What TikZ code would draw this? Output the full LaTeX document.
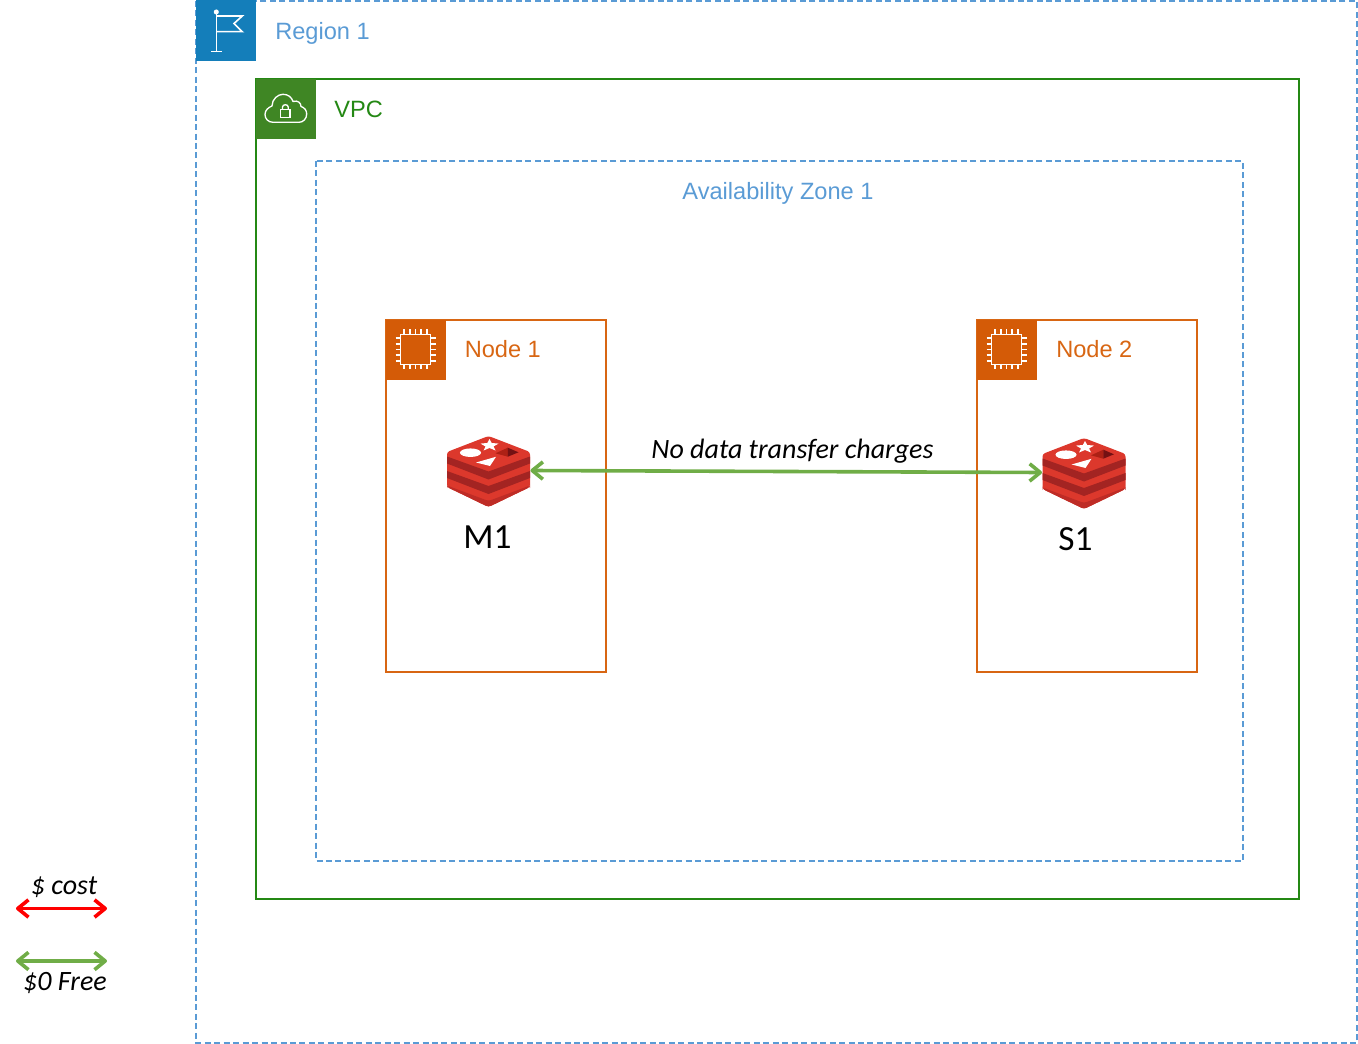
\documentclass[tikz,border=0pt]{standalone}
\usepackage{fontspec}
\setmainfont{Liberation Sans}
\newfontfamily\calibrifont{Carlito}
\usetikzlibrary{arrows.meta}
\definecolor{regionblue}{HTML}{5A9BD5}
\definecolor{flagblue}{HTML}{147EBA}
\definecolor{vpcline}{HTML}{248814}
\definecolor{vpcfill}{HTML}{3F8624}
\definecolor{nodeorange}{HTML}{D86613}
\definecolor{chipfill}{HTML}{D45B07}
\definecolor{freegreen}{HTML}{70AD47}
\definecolor{rtop}{HTML}{DC382C}
\definecolor{rside}{HTML}{A32422}
\definecolor{rlow}{HTML}{BE2C26}
\definecolor{rdia}{HTML}{AD2115}
\definecolor{rdiadark}{HTML}{741113}
\tikzset{
  regionbox/.style={draw=regionblue,line width=1.1pt,dashed,dash pattern=on 4.5pt off 2.6pt},
  vpcbox/.style={draw=vpcline,line width=1.5pt},
  nodebox/.style={draw=nodeorange,line width=1.5pt},
  iconline/.style={draw=white,line width=1.2pt},
  grouplabel/.style={anchor=west,inner sep=0pt,font=\fontsize{17.7pt}{20pt}\selectfont},
  calibrilabel/.style={inner sep=0pt,font=\calibrifont\fontsize{26.5pt}{30pt}\selectfont},
  notelabel/.style={inner sep=0pt,font=\calibrifont\itshape\fontsize{21pt}{25pt}\selectfont},
  flow/.style={line width=2.7pt,line cap=round,{Straight Barb[length=8pt,width=13pt,line join=round]}-{Straight Barb[length=8pt,width=13pt,line join=round]}},
  anchorbox/.style={inner sep=0pt,minimum width=62.5pt,minimum height=54pt},
  chip/.pic={
    \fill[chipfill] (0,0) rectangle (60,60);
    \draw[iconline] (14.5,14.5) rectangle (44.5,44.5);
    \foreach \d in {-11.4,-5.7,0,5.7,11.4}{
      \draw[white,line width=1.1pt] (29.5+\d,9.5) -- (29.5+\d,14.5);
      \draw[white,line width=1.1pt] (29.5+\d,44.5) -- (29.5+\d,49.5);
      \draw[white,line width=1.1pt] (9.5,29.5+\d) -- (14.5,29.5+\d);
      \draw[white,line width=1.1pt] (44.5,29.5+\d) -- (49.5,29.5+\d);
    }
  },
  redis/.pic={
    \fill[rtop,rounded corners=2pt] (-41.5,16) -- (0,0) -- (41.5,16) -- (41.5,51) -- (0,71) -- (-41.5,51) -- cycle;
    \fill[rside] (-41.5,20.5) -- (0,35.5) -- (41.5,20.5) -- (41.5,27.5) -- (0,43.5) -- (-41.5,27.5) -- cycle;
    \fill[rside] (-41.5,35) -- (0,50) -- (41.5,35) -- (41.5,42) -- (0,58) -- (-41.5,42) -- cycle;
    \fill[rlow,rounded corners=2pt] (-41.5,49.5) -- (0,65) -- (41.5,49.5) -- (41.5,51) -- (0,71) -- (-41.5,51) -- cycle;
    \fill[white] (-18,16.7) ellipse [x radius=7.9pt,y radius=3.2pt];
    \fill[white] (1,3) -- (3.2,7) -- (10,7.6) -- (5,10.5) -- (7,14.5) -- (1,12) -- (-5,14.5) -- (-3,10.5) -- (-8,7.6) -- (-1.2,7) -- cycle;
    \fill[white] (-12.5,26.5) -- (7.5,20.8) -- (1.5,30) -- cycle;
    \fill[rdia] (7,17.3) -- (19.3,11.7) -- (19.3,20.7) -- cycle;
    \fill[rdiadark] (19.3,11.7) -- (30,16.3) -- (19.3,20.7) -- cycle;
  }
}
\begin{document}
\begin{tikzpicture}[x=0.75pt,y=-0.75pt]
\useasboundingbox (0,0) rectangle (1358,1044);
% containers
\draw[regionbox] (196,1) rectangle (1357,1043);
\draw[vpcbox] (256,79) rectangle (1299,899);
\draw[regionbox,line width=1pt] (316,161) rectangle (1243,861);
\draw[nodebox] (386,320) rectangle (606,672);
\draw[nodebox] (977,320) rectangle (1197,672);
% region badge
\fill[flagblue] (196,0) rectangle (256,61);
\fill[white] (216.3,12) circle [radius=1.9pt];
\draw[iconline] (216.3,12) -- (216.3,51.5) (211,51.5) -- (222,51.5);
\draw[iconline,line join=miter] (216.3,16) -- (242.3,16) -- (234,23.5) -- (242.3,31.7) -- (216.3,31.7);
% vpc badge
\fill[vpcfill] (256,79) rectangle (316,139);
\draw[iconline,line width=1pt] (273,122.3) .. controls (268,122.3) and (265,118.5) .. (265,114.5) .. controls (265,110.5) and (268,107.5) .. (272,106) .. controls (272,99) and (278,94.3) .. (283,94.3) .. controls (288,94.3) and (291.5,97) .. (293,101.5) .. controls (298,100) and (301,103) .. (301,106.5) .. controls (304.5,107.5) and (306.7,110.5) .. (306.7,114) .. controls (306.7,119) and (303,122.3) .. (299,122.3) -- cycle;
\draw[iconline,line width=1pt] (280.7,109.3) rectangle (290,117.3);
\draw[iconline,line width=1pt] (282.5,109.3) -- (282.5,107) .. controls (282.5,104) and (288.2,104) .. (288.2,107) -- (288.2,109.3);
% chips
\pic at (386,320) {chip};
\pic at (977,320) {chip};
% redis icons
\pic at (488.5,436) {redis};
\pic at (1084,438) {redis};
\node[anchorbox] (m1icon) at (488.5,470.5) {};
\node[anchorbox] (s1icon) at (1084,472.5) {};
% labels
\node[grouplabel,text=regionblue] (regionlabel) at (275,33) {Region 1};
\node[grouplabel,text=vpcline] (vpclabel) at (334,109.5) {VPC};
\node[grouplabel,text=regionblue,anchor=center] (azlabel) at (778,193) {Availability Zone 1};
\node[grouplabel,text=nodeorange] (node1label) at (464.5,349.5) {Node 1};
\node[grouplabel,text=nodeorange] (node2label) at (1056,349.5) {Node 2};
\node[calibrilabel] (m1label) at (487.5,537) {M1};
\node[calibrilabel] (s1label) at (1075.5,539) {S1};
\node[notelabel] (note) at (792.5,451) {No data transfer charges};
% connector
\draw[flow,freegreen] (m1icon.east) -- (s1icon.west);
% legend
\coordinate (costl) at (16,908.5);
\coordinate (costr) at (107,908.5);
\coordinate (freel) at (16,961);
\coordinate (freer) at (107,961);
\draw[flow,red] (costl) -- (costr);
\draw[flow,freegreen] (freel) -- (freer);
\node[notelabel] (costlabel) at (64,887) {\$ cost};
\node[notelabel] (freelabel) at (65,983) {\$0 Free};
\end{tikzpicture}
\end{document}
